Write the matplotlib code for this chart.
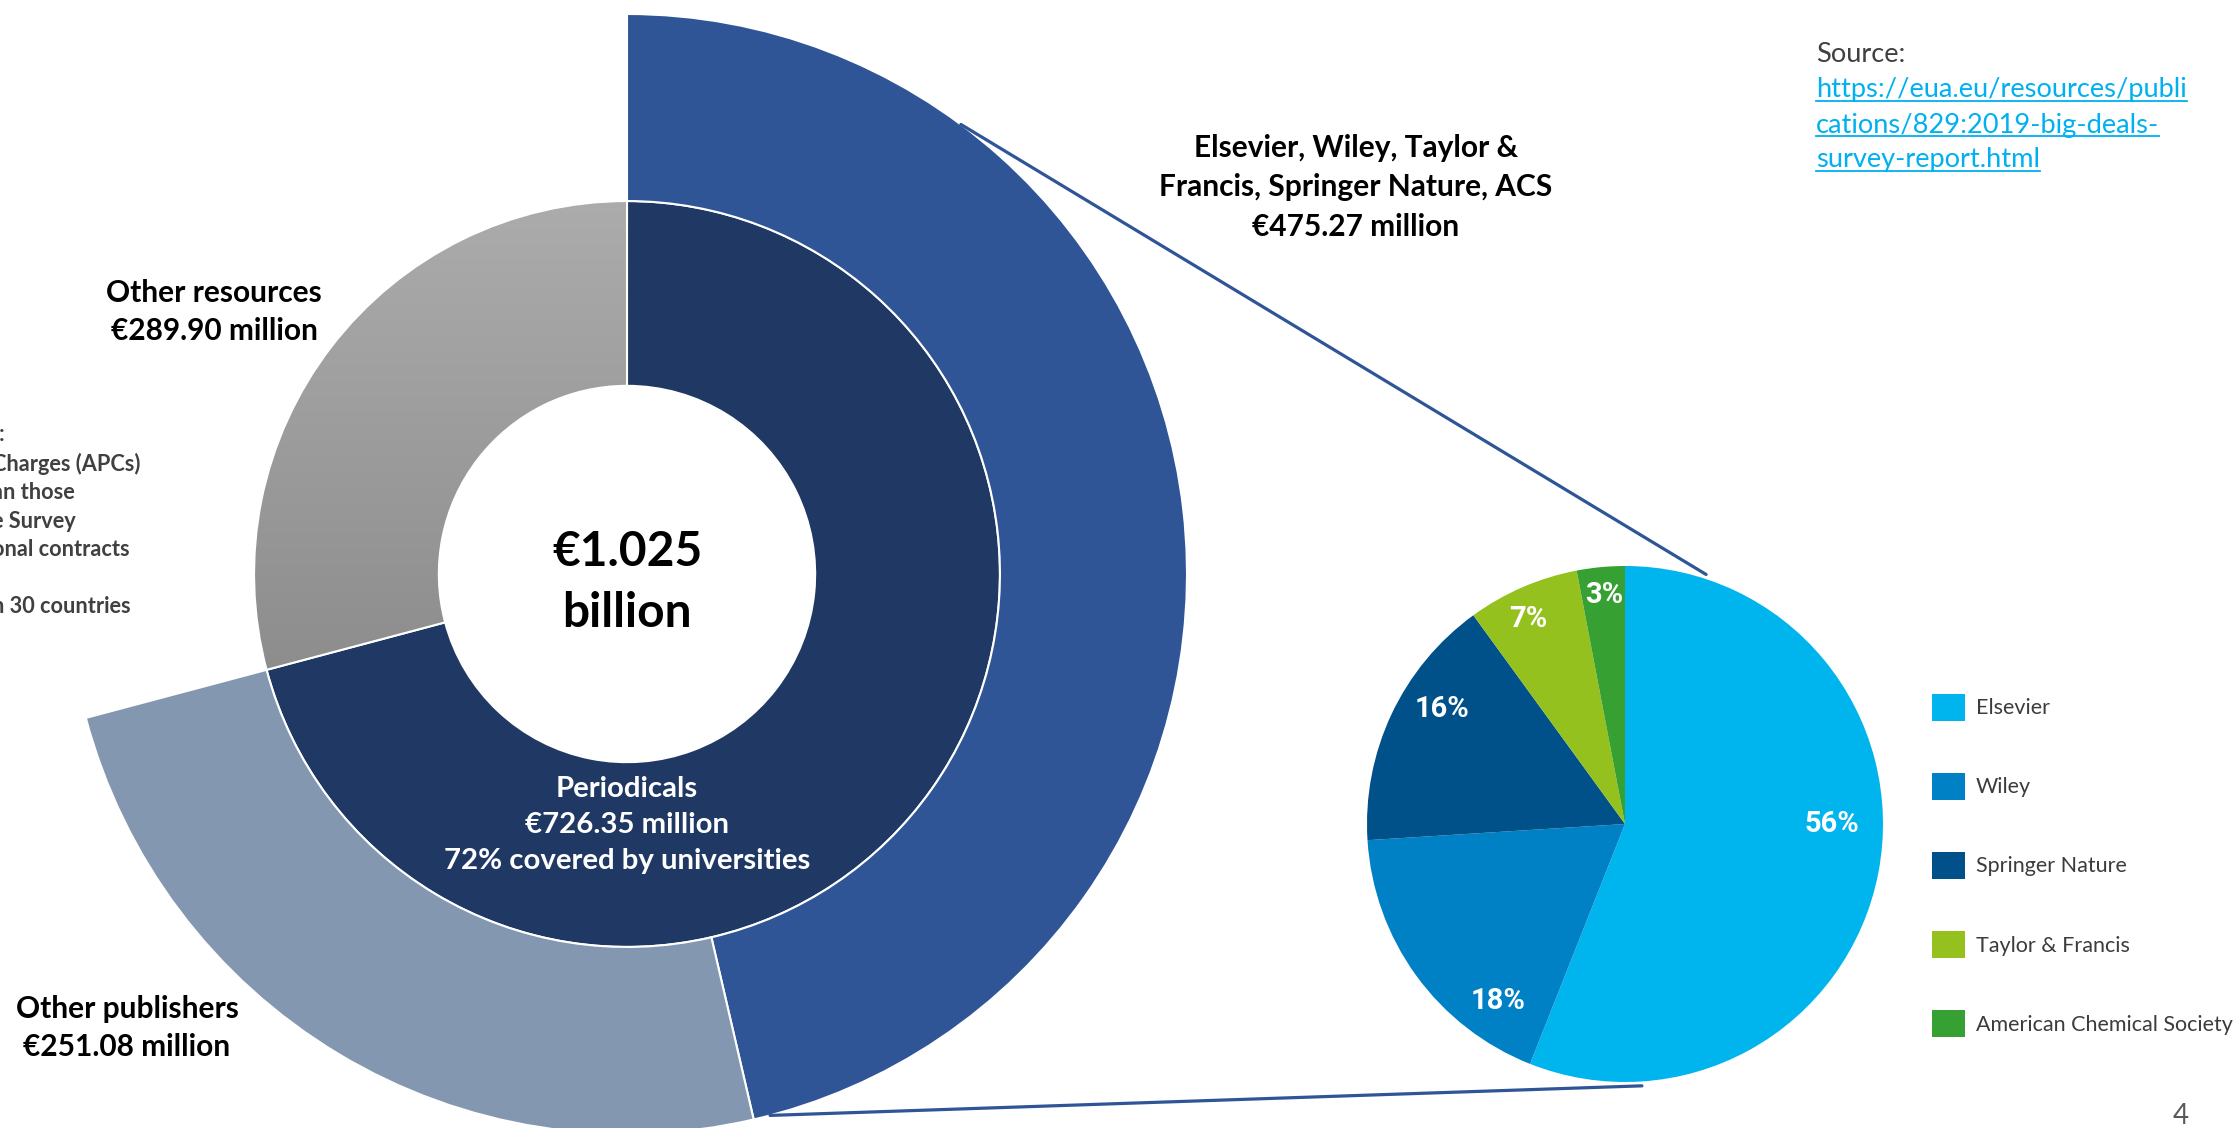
import numpy as np
import matplotlib.pyplot as plt
from matplotlib.colors import LinearSegmentedColormap
from matplotlib.patches import ConnectionPatch
from matplotlib.lines import Line2D

# === data ===
# slice angles on the slide add up to the €1.025 billion total,
# so the "other resources" slice is drawn as the remainder (1025 - 726.35)
inner_labels = ["Periodicals", "Other resources"]
inner_values = [726.35, 298.65]
outer_labels = ["Elsevier, Wiley, Taylor & Francis, Springer Nature, ACS", "Other publishers", ""]
outer_values = [475.27, 251.08, 298.65]
publishers = ["Elsevier", "Wiley", "Springer Nature", "Taylor & Francis", "American Chemical Society"]
publisher_share = [56, 18, 16, 7, 3]
publisher_colors = ["#00B5EE", "#0081C5", "#005189", "#95C11F", "#36A033"]

W, H = 2235, 1128
BOLD = "Lato"
fig = plt.figure(figsize=(W / 100, H / 100), dpi=100)


def px_axes(cx, cy, r):
    a = fig.add_axes([(cx - r) / W, 1 - (cy + r) / H, 2 * r / W, 2 * r / H])
    a.set_axis_off()
    return a


# === main donut ===
ax = px_axes(627, 574, 560)
inner, _ = ax.pie(inner_values, radius=0.666, startangle=90, counterclock=False,
                  colors=["#203864", "#A6A6A6"],
                  wedgeprops=dict(width=0.33, edgecolor="white", linewidth=1.5))
outer, _ = ax.pie(outer_values, radius=1.0, startangle=90, counterclock=False,
                  colors=["#2F5597", "#8497B0", "white"],
                  wedgeprops=dict(width=0.334, edgecolor="white", linewidth=1.5))
outer[2].set_visible(False)

# gray gradient on "other resources"
gray = inner[1]
gray.set_facecolor("none")
gray.set_zorder(3)
cmap = LinearSegmentedColormap.from_list("g", ["#8C8C8C", "#ADADAD"])
im = ax.imshow(np.linspace(0, 1, 256)[:, None], cmap=cmap, origin="lower",
               extent=[-0.7, 0.05, -0.2, 0.7], aspect="auto", zorder=1)
im.set_clip_path(gray)
ax.set_xlim(-1, 1)
ax.set_ylim(-1, 1)

ax.text(0, -0.015, "€1.025\nbillion", ha="center", va="center", fontsize=34.5,
        fontweight="bold", family=BOLD, linespacing=1.49)
ax.text(0, -0.448, "Periodicals\n€726.35 million\n72% covered by universities",
        ha="center", va="center", fontsize=21.2, fontweight="bold", family=BOLD,
        color="white", linespacing=1.49)

fig.text(1356 / W, 1 - 187 / H, "Elsevier, Wiley, Taylor &\nFrancis, Springer Nature, ACS\n€475.27 million",
         ha="center", va="center", fontsize=21.5, fontweight="bold", family=BOLD, linespacing=1.5)
fig.text(214 / W, 1 - 312 / H, "Other resources\n€289.90 million", ha="center", va="center",
         fontsize=21.5, fontweight="bold", family=BOLD, linespacing=1.45)
fig.text(127 / W, 1 - 1028 / H, "Other publishers\n€251.08 million", ha="center", va="center",
         fontsize=21.5, fontweight="bold", family=BOLD, linespacing=1.45)

# text box cut by the left edge of the slide
fig.text(-8 / W, 1 - 424 / H,
         "t:\nCharges (APCs)\nan those\ne Survey\nonal contracts\n\nn 30 countries",
         ha="left", va="top", fontsize=15.7, fontweight="bold", family=BOLD,
         color="#404040", linespacing=1.435)

# === publisher pie ===
pax = px_axes(1625, 824, 258)
wedges, _, autotexts = pax.pie(publisher_share, startangle=90, counterclock=False,
                               colors=publisher_colors, autopct="%.0f%%",
                               textprops=dict(color="white", fontsize=21, fontweight="bold",
                                              family="Roboto"))
# label spots as placed on the slide (radius, angle)
label_spots = [(0.80, 0.0), (0.845, -125.7), (0.838, 148.0), (0.88, 115.3), (0.89, 95.3)]
for t, (rr, ang) in zip(autotexts, label_spots):
    t.set_position((rr * np.cos(np.radians(ang)), rr * np.sin(np.radians(ang))))
pax.set_xlim(-1, 1)
pax.set_ylim(-1, 1)

fig.legend(wedges, publishers, loc="upper left", bbox_to_anchor=(1921 / W, 1 - 683 / H),
           frameon=False, borderpad=0, handlelength=1.55, handleheight=1.55,
           labelspacing=2.42, handletextpad=0.5,
           prop=dict(family="Lato", size=15.5), labelcolor="#3C3C3C")

# connectors between the big-deal slice and the publisher pie
for a_out, a_pie in [(53.4, 72.0), (-75.2, -86.3)]:
    ta, tb = np.radians(a_out), np.radians(a_pie)
    con = ConnectionPatch(xyA=(np.cos(ta), np.sin(ta)), coordsA=ax.transData,
                          xyB=(1.017 * np.cos(tb), 1.017 * np.sin(tb)), coordsB=pax.transData,
                          color="#2F5597", linewidth=2.3)
    fig.add_artist(con)

# === source ===
fig.text(1816 / W, 1 - 54 / H, "Source:", ha="left", va="center", fontsize=19.6,
         family="Lato", color="#404040")
links = []
for i, line in enumerate(["https://eua.eu/resources/publi", "cations/829:2019-big-deals-",
                          "survey-report.html"]):
    links.append(fig.text(1816 / W, 1 - (90 + 35 * i) / H, line, ha="left", va="center",
                          fontsize=19.6, family="Lato", color="#00B0F0"))

fig.text(2181 / W, 1 - 1116 / H, "4", ha="center", va="center", fontsize=20,
         family="Lato", color="#595959")

fig.canvas.draw()
r = fig.canvas.get_renderer()
for t in links:
    bb = t.get_window_extent(r)
    y = (bb.y0 + 2) / H
    fig.add_artist(Line2D([bb.x0 / W, bb.x1 / W], [y, y], color="#00B0F0", linewidth=1.3))

fig.savefig("out.png", dpi=100)
